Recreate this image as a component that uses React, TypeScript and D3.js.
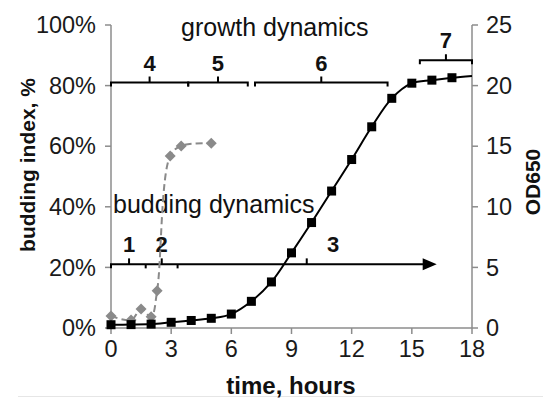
import React from "react";
import * as d3 from "d3";

// ---- data ----
const odTimes = [0, 1, 2, 3, 4, 5, 6, 7, 8, 9, 10, 11, 12, 13, 14, 15, 16, 17, 18];
const odValues = [0.27, 0.28, 0.32, 0.47, 0.62, 0.8, 1.15, 2.2, 3.8, 6.2, 8.7, 11.3, 13.9, 16.6, 18.95, 20.2, 20.45, 20.65, 20.8];
const odMarked = [true, true, true, true, true, true, true, true, true, true, true, true, true, true, true, true, true, true, false];

const budTimes = [0, 1, 1.5, 2, 2.3, 2.95, 3.5, 5];
const budValues = [4.0, 2.6, 6.3, 3.7, 12.3, 56.8, 60.1, 61];

const xTicks = [0, 3, 6, 9, 12, 15, 18];
const leftTicks = [0, 20, 40, 60, 80, 100];
const rightTicks = [0, 5, 10, 15, 20, 25];

// growth phases
const growthLabels = ["4", "5", "6", "7"];
const growthStart = [0, 3.85, 7.18, 15.4];
const growthEnd = [3.85, 6.82, 13.79, 18];
const growthLevel = [81, 81, 81, 88.4];

// budding phases
const buddingLabels = ["1", "2", "3"];
const buddingTickTimes = [0.9, 2.53, 9.76];
const buddingLabelTimes = [0.9, 2.53, 11.07];
const buddingBounds = [1.73, 3.32];
const buddingArrowEnd = 16.24;
const buddingLevel = 21;

const W = 543;
const H = 398;
const FONT = "'Liberation Sans', Arial, sans-serif";

export default function App() {
  const x = d3.scaleLinear().domain([0, 18]).range([111, 472]);
  const yL = d3.scaleLinear().domain([0, 100]).range([328, 25]);
  const yR = d3.scaleLinear().domain([0, 25]).range([328, 25]);

  const odLine = d3
    .line<number>()
    .x((_, i) => x(odTimes[i]))
    .y((v) => yR(v))
    .curve(d3.curveCatmullRom.alpha(0.5));
  const budLine = d3
    .line<number>()
    .x((_, i) => x(budTimes[i]))
    .y((v) => yL(v))
    .curve(d3.curveCatmullRom.alpha(0.5));

  const axisColor = "#8c8c8c";
  const grayColor = "#8a8a8a";

  const bracket = (s: number, e: number, level: number, key: string, label: string) => {
    const y = yL(level);
    const x0 = x(s);
    const x1 = x(e);
    const xm = (x0 + x1) / 2;
    const d = `M${x0},${y + 4} L${x0},${y} L${x1},${y} L${x1},${y + 4} M${xm},${y} L${xm},${y - 6}`;
    return (
      <g key={key}>
        <path d={d} fill="none" stroke="#000" strokeWidth={2} />
        <text x={xm} y={y - 12} textAnchor="middle" fontSize={22} fontWeight="bold" fill="#111">
          {label}
        </text>
      </g>
    );
  };

  const by = yL(buddingLevel);
  const bx0 = x(0);
  const bx1 = x(buddingArrowEnd);

  return (
    <svg
      width={W}
      height={H}
      style={{ position: "absolute", left: 0, top: 0, background: "#fff" }}
      fontFamily={FONT}
    >
      <rect x={0} y={0} width={W} height={H} fill="#fff" />
      <line x1={18} x2={W} y1={396.5} y2={396.5} stroke="#e6e6e6" strokeWidth={1} />

      {/* axes */}
      <line x1={x(0)} x2={x(0)} y1={yL(100)} y2={yL(0)} stroke={axisColor} strokeWidth={1.5} />
      <line x1={x(18)} x2={x(18)} y1={yR(25)} y2={yR(0)} stroke={axisColor} strokeWidth={1.5} />
      <line x1={x(0)} x2={x(18)} y1={yL(0)} y2={yL(0)} stroke={axisColor} strokeWidth={1.5} />
      {leftTicks.map((t) => (
        <g key={"l" + t}>
          <line x1={x(0) - 6} x2={x(0)} y1={yL(t)} y2={yL(t)} stroke={axisColor} strokeWidth={1.5} />
          <text x={96} y={yL(t)} dy="0.35em" textAnchor="end" fontSize={23.5} fill="#1a1a1a">
            {t + "%"}
          </text>
        </g>
      ))}
      {rightTicks.map((t) => (
        <g key={"r" + t}>
          <line x1={x(18)} x2={x(18) + 6} y1={yR(t)} y2={yR(t)} stroke={axisColor} strokeWidth={1.5} />
          <text x={486} y={yR(t)} dy="0.35em" textAnchor="start" fontSize={23.5} fill="#1a1a1a">
            {t}
          </text>
        </g>
      ))}
      {xTicks.map((t) => (
        <g key={"x" + t}>
          <line x1={x(t)} x2={x(t)} y1={yL(0)} y2={yL(0) + 6} stroke={axisColor} strokeWidth={1.5} />
          <text x={x(t)} y={357} textAnchor="middle" fontSize={23.5} fill="#1a1a1a">
            {t}
          </text>
        </g>
      ))}

      {/* axis titles */}
      <text x={291} y={394} textAnchor="middle" fontSize={24} fontWeight="bold" fill="#111">
        time, hours
      </text>
      <text
        transform="translate(35,165) rotate(-90)"
        textAnchor="middle"
        fontSize={21}
        fontWeight="bold"
        fill="#111"
      >
        budding index, %
      </text>
      <text
        transform="translate(540,182) rotate(-90)"
        textAnchor="middle"
        fontSize={21}
        fontWeight="bold"
        fill="#111"
      >
        OD650
      </text>

      {/* annotations */}
      <text x={181} y={36} fontSize={25} fill="#111">
        growth dynamics
      </text>
      <text x={113} y={213} fontSize={25} fill="#111">
        budding dynamics
      </text>

      {growthLabels.map((l, i) => bracket(growthStart[i], growthEnd[i], growthLevel[i], "g" + i, l))}

      {/* budding arrow */}
      <path d={`M${bx0},${by + 4} L${bx0},${by} L${bx1 - 12},${by}`} fill="none" stroke="#000" strokeWidth={2} />
      <path d={`M${bx1},${by} L${bx1 - 14},${by - 6} L${bx1 - 14},${by + 6} Z`} fill="#000" />
      {buddingBounds.map((t, i) => (
        <line key={"bb" + i} x1={x(t)} x2={x(t)} y1={by} y2={by + 4} stroke="#000" strokeWidth={2} />
      ))}
      {buddingTickTimes.map((t, i) => (
        <line key={"bt" + i} x1={x(t)} x2={x(t)} y1={by} y2={by - 6} stroke="#000" strokeWidth={2} />
      ))}
      {buddingLabels.map((l, i) => (
        <text key={"bl" + i} x={x(buddingLabelTimes[i])} y={by - 12.5} textAnchor="middle" fontSize={22} fontWeight="bold" fill="#111">
          {l}
        </text>
      ))}

      {/* budding index series */}
      <path d={budLine(budValues) || ""} fill="none" stroke={grayColor} strokeWidth={2} strokeDasharray="7,4" />
      {budValues.map((v, i) => (
        <path
          key={"bd" + i}
          d={`M${x(budTimes[i])},${yL(v) - 5.5} l5.5,5.5 l-5.5,5.5 l-5.5,-5.5 Z`}
          fill={grayColor}
        />
      ))}

      {/* OD series */}
      <path d={odLine(odValues) || ""} fill="none" stroke="#000" strokeWidth={2} />
      {odValues.map((v, i) =>
        odMarked[i] ? (
          <rect key={"od" + i} x={x(odTimes[i]) - 4.5} y={yR(v) - 4.5} width={9} height={9} fill="#000" />
        ) : null
      )}
    </svg>
  );
}
